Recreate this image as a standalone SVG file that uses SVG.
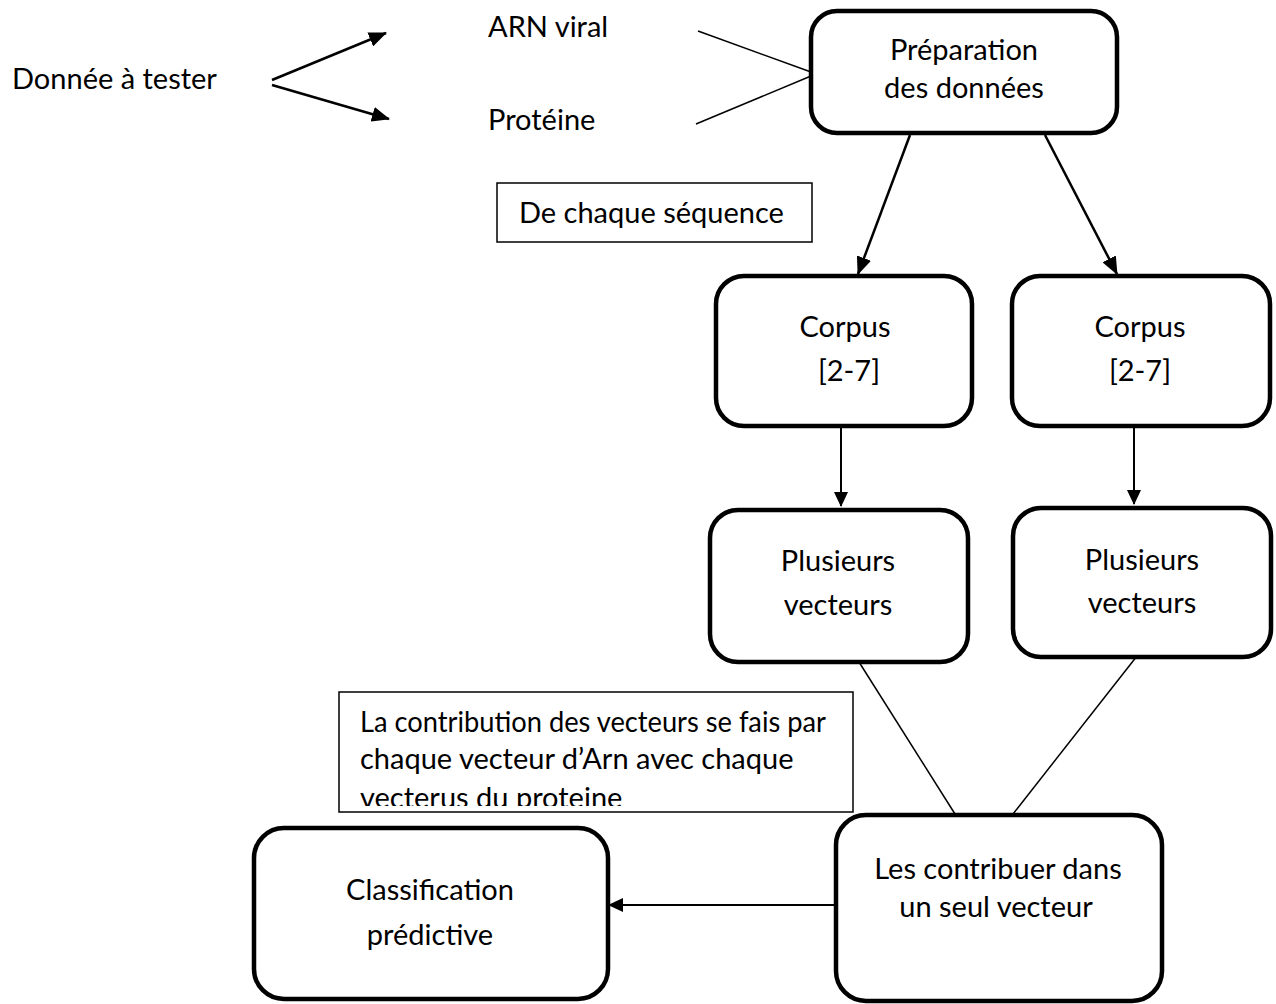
<svg xmlns="http://www.w3.org/2000/svg" width="1276" height="1004" viewBox="0 0 1276 1004">
  <defs>
    <style>
      text { font-family: Lato, "Open Sans", "Liberation Sans", sans-serif; font-size: 29px; fill: #000; }
      .mid { text-anchor: middle; }
      .node { fill: #fff; stroke: #000; stroke-width: 4.5; }
      .note { fill: #fff; stroke: #000; stroke-width: 1.5; }
      .arrow { fill: none; stroke: #000; stroke-width: 2.5; }
      .arrow-thin { fill: none; stroke: #000; stroke-width: 2; }
      .link { fill: none; stroke: #000; stroke-width: 1.5; }
    </style>
    <marker id="head" viewBox="0 0 18 15" refX="17" refY="7.5" markerWidth="18" markerHeight="15" markerUnits="userSpaceOnUse" orient="auto">
      <path d="M0,0 L18,7.5 L0,15 Z" fill="#000"/>
    </marker>
    <marker id="head-s" viewBox="0 0 15 14" refX="14" refY="7" markerWidth="15" markerHeight="14" markerUnits="userSpaceOnUse" orient="auto">
      <path d="M0,0 L15,7 L0,14 Z" fill="#000"/>
    </marker>
    <clipPath id="note-clip">
      <rect x="340" y="692" width="512" height="114"/>
    </clipPath>
  </defs>

  <rect width="1276" height="1004" fill="#fff"/>

  <!-- connectors -->
  <g id="connectors">
    <line class="arrow" x1="272" y1="80" x2="386" y2="33" marker-end="url(#head)"/>
    <line class="arrow" x1="272" y1="85" x2="389" y2="119" marker-end="url(#head)"/>
    <line class="link" x1="698" y1="31" x2="811" y2="72"/>
    <line class="link" x1="696" y1="124" x2="811" y2="76"/>
    <line class="arrow" x1="910" y1="135" x2="858" y2="274" marker-end="url(#head)"/>
    <line class="arrow" x1="1045" y1="135" x2="1117" y2="274" marker-end="url(#head)"/>
    <line class="arrow-thin" x1="841" y1="427" x2="841" y2="506" marker-end="url(#head-s)"/>
    <line class="arrow-thin" x1="1134" y1="427" x2="1134" y2="504" marker-end="url(#head-s)"/>
    <line class="link" x1="859" y1="662" x2="955" y2="814"/>
    <line class="link" x1="1137" y1="656" x2="1013" y2="814"/>
    <line class="arrow-thin" x1="836" y1="905" x2="609" y2="905" marker-end="url(#head-s)"/>
  </g>

  <!-- input data -->
  <g id="input">
    <text x="12" y="89">Donnée à tester</text>
  </g>
  <g id="arn">
    <text x="488" y="37">ARN viral</text>
  </g>
  <g id="proteine">
    <text x="488" y="130">Protéine</text>
  </g>

  <!-- preparation -->
  <g id="preparation">
    <rect class="node" x="811" y="11" width="306" height="122" rx="26"/>
    <text class="mid" x="964" y="60">Préparation</text>
    <text class="mid" x="964" y="98">des données</text>
  </g>

  <g id="note-sequence">
    <rect class="note" x="497" y="183" width="315" height="59"/>
    <text x="519" y="223">De chaque séquence</text>
  </g>

  <!-- corpora -->
  <g id="corpus-arn">
    <rect class="node" x="716" y="276" width="256" height="150" rx="28"/>
    <text class="mid" x="845" y="337">Corpus</text>
    <text class="mid" x="849" y="381">[2-7]</text>
  </g>
  <g id="corpus-proteine">
    <rect class="node" x="1012" y="276" width="258" height="150" rx="28"/>
    <text class="mid" x="1140" y="337">Corpus</text>
    <text class="mid" x="1140" y="381">[2-7]</text>
  </g>

  <!-- vectors -->
  <g id="vecteurs-arn">
    <rect class="node" x="710" y="510" width="258" height="152" rx="28"/>
    <text class="mid" x="838" y="571">Plusieurs</text>
    <text class="mid" x="838" y="615">vecteurs</text>
  </g>
  <g id="vecteurs-proteine">
    <rect class="node" x="1013" y="508" width="258" height="149" rx="28"/>
    <text class="mid" x="1142" y="570">Plusieurs</text>
    <text class="mid" x="1142" y="613">vecteurs</text>
  </g>

  <g id="note-contribution">
    <rect class="note" x="339" y="692" width="514" height="120"/>
    <g clip-path="url(#note-clip)">
      <text x="360" y="732" textLength="466" lengthAdjust="spacingAndGlyphs">La contribution des vecteurs se fais par</text>
      <text x="360" y="769">chaque vecteur d’Arn avec chaque</text>
      <text x="360" y="808">vecterus du proteine</text>
    </g>
  </g>

  <!-- combination and classification -->
  <g id="contribution">
    <rect class="node" x="836" y="815" width="326" height="186" rx="30"/>
    <text class="mid" x="998" y="879">Les contribuer dans</text>
    <text class="mid" x="996" y="917">un seul vecteur</text>
  </g>
  <g id="classification">
    <rect class="node" x="254" y="828" width="354" height="171" rx="30"/>
    <text class="mid" x="430" y="900">Classification</text>
    <text class="mid" x="430" y="945">prédictive</text>
  </g>
</svg>
